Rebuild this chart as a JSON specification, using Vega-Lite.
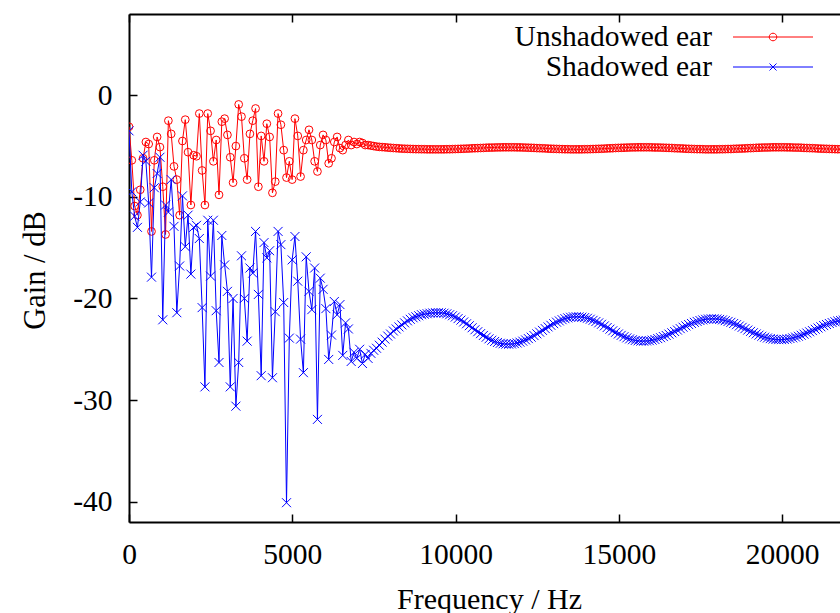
{
"$schema": "https://vega.github.io/schema/vega-lite/v6.json",
"width": 711, "height": 508,
"autosize": {"type": "none"},
"padding": {"left": 129, "top": 14, "right": 0, "bottom": 91},
"background": "white",
"config": {"view": {"stroke": null}, "font": "Liberation Serif"},
"data": {"values": [
{"f":0,"u":-3.1,"s":-3.5},{"f":86.1,"u":-6.4,"s":-9.5},{"f":172.3,"u":-10.9,"s":-11.9},{"f":258.4,"u":-11.8,"s":-13.0},{"f":344.5,"u":-9.3,"s":-10.5},{"f":430.7,"u":-6.2,"s":-5.9},{"f":516.8,"u":-4.6,"s":-6.5},{"f":602.9,"u":-4.8,"s":-10.6},{"f":689.1,"u":-13.4,"s":-17.9},{"f":775.2,"u":-6.4,"s":-9.1},
{"f":861.3,"u":-4.1,"s":-7.7},{"f":947.5,"u":-5.1,"s":-6.1},{"f":1033.6,"u":-9.0,"s":-22.1},{"f":1119.7,"u":-13.7,"s":-10.8},{"f":1205.9,"u":-2.5,"s":-11.5},{"f":1292.0,"u":-3.8,"s":-8.3},{"f":1378.1,"u":-7.0,"s":-12.9},{"f":1464.3,"u":-8.3,"s":-21.4},{"f":1550.4,"u":-11.8,"s":-16.8},{"f":1636.5,"u":-4.5,"s":-9.9},
{"f":1722.7,"u":-2.4,"s":-14.9},{"f":1808.8,"u":-5.6,"s":-11.8},{"f":1894.9,"u":-10.8,"s":-17.6},{"f":1981.1,"u":-5.9,"s":-13.0},{"f":2067.2,"u":-6.0,"s":-12.8},{"f":2153.3,"u":-1.8,"s":-14.1},{"f":2239.5,"u":-7.4,"s":-20.9},{"f":2325.6,"u":-10.8,"s":-28.7},{"f":2411.7,"u":-1.8,"s":-12.3},{"f":2497.9,"u":-3.5,"s":-17.8},
{"f":2584.0,"u":-6.5,"s":-12.3},{"f":2670.1,"u":-4.4,"s":-21.2},{"f":2756.3,"u":-9.8,"s":-26.3},{"f":2842.4,"u":-2.6,"s":-13.8},{"f":2928.5,"u":-2.3,"s":-16.7},{"f":3014.6,"u":-3.9,"s":-19.3},{"f":3100.8,"u":-6.1,"s":-28.7},{"f":3186.9,"u":-8.6,"s":-20.0},{"f":3273.0,"u":-5.0,"s":-30.6},{"f":3359.2,"u":-0.9,"s":-26.3},
{"f":3445.3,"u":-2.1,"s":-15.8},{"f":3531.4,"u":-6.2,"s":-20.0},{"f":3617.6,"u":-8.3,"s":-24.2},{"f":3703.7,"u":-3.8,"s":-17.0},{"f":3789.8,"u":-2.5,"s":-17.5},{"f":3876.0,"u":-1.3,"s":-13.4},{"f":3962.1,"u":-9.0,"s":-19.6},{"f":4048.2,"u":-4.0,"s":-27.6},{"f":4134.4,"u":-6.5,"s":-14.5},{"f":4220.5,"u":-2.8,"s":-16.0},
{"f":4306.6,"u":-4.1,"s":-15.3},{"f":4392.8,"u":-9.6,"s":-27.8},{"f":4478.9,"u":-8.5,"s":-21.3},{"f":4565.0,"u":-1.8,"s":-13.4},{"f":4651.2,"u":-2.9,"s":-14.7},{"f":4737.3,"u":-5.4,"s":-20.4},{"f":4823.4,"u":-8.1,"s":-40.1},{"f":4909.6,"u":-6.5,"s":-23.9},{"f":4995.7,"u":-8.3,"s":-16.2},{"f":5081.8,"u":-2.3,"s":-13.9},
{"f":5168.0,"u":-4.0,"s":-18.3},{"f":5254.1,"u":-8.0,"s":-24.0},{"f":5340.2,"u":-5.4,"s":-27.3},{"f":5426.4,"u":-4.4,"s":-15.9},{"f":5512.5,"u":-3.4,"s":-19.3},{"f":5598.6,"u":-4.4,"s":-21.1},{"f":5684.8,"u":-6.5,"s":-17.0},{"f":5770.9,"u":-7.5,"s":-31.9},{"f":5857.0,"u":-4.9,"s":-18.0},{"f":5943.2,"u":-3.9,"s":-19.1},
{"f":6029.3,"u":-4.4,"s":-21.0},{"f":6115.4,"u":-6.7,"s":-26.0},{"f":6201.6,"u":-6.2,"s":-23.6},{"f":6287.7,"u":-4.6,"s":-20.3},{"f":6373.8,"u":-4.1,"s":-21.6},{"f":6460.0,"u":-5.2,"s":-20.6},{"f":6546.1,"u":-5.4,"s":-25.6},{"f":6632.2,"u":-4.9,"s":-22.4},{"f":6718.4,"u":-4.4,"s":-23.0},{"f":6804.5,"u":-4.9,"s":-26.2},
{"f":6890.6,"u":-4.6,"s":-25.3},{"f":6976.8,"u":-4.8,"s":-25.9},{"f":7062.9,"u":-4.6,"s":-25.0},{"f":7149.0,"u":-4.7,"s":-26.4},{"f":7235.2,"u":-4.9,"s":-25.5},{"f":7321.3,"u":-4.9,"s":-25.9},{"f":7407.4,"u":-4.95,"s":-25.4},{"f":7493.6,"u":-5.0,"s":-25.1},{"f":7579.7,"u":-5.05,"s":-24.9},{"f":7665.8,"u":-5.08,"s":-24.6},
{"f":7752.0,"u":-5.1,"s":-24.3},{"f":7838.1,"u":-5.12,"s":-24.0},{"f":7924.2,"u":-5.15,"s":-23.7},{"f":8010.4,"u":-5.17,"s":-23.5},{"f":8096.5,"u":-5.19,"s":-23.2},{"f":8182.6,"u":-5.21,"s":-23.0},{"f":8268.8,"u":-5.23,"s":-22.8},{"f":8354.9,"u":-5.25,"s":-22.6},{"f":8441.0,"u":-5.26,"s":-22.4},{"f":8527.1,"u":-5.27,"s":-22.2},
{"f":8613.3,"u":-5.28,"s":-22.05},{"f":8699.4,"u":-5.29,"s":-21.9},{"f":8785.5,"u":-5.3,"s":-21.8},{"f":8871.7,"u":-5.3,"s":-21.7},{"f":8957.8,"u":-5.31,"s":-21.6},{"f":9043.9,"u":-5.31,"s":-21.55},{"f":9130.1,"u":-5.32,"s":-21.5},{"f":9216.2,"u":-5.32,"s":-21.45},{"f":9302.3,"u":-5.32,"s":-21.42},{"f":9388.5,"u":-5.32,"s":-21.4},
{"f":9474.6,"u":-5.32,"s":-21.4},{"f":9560.7,"u":-5.32,"s":-21.41},{"f":9646.9,"u":-5.32,"s":-21.45},{"f":9733.0,"u":-5.31,"s":-21.51},{"f":9819.1,"u":-5.31,"s":-21.6},{"f":9905.3,"u":-5.3,"s":-21.7},{"f":9991.4,"u":-5.29,"s":-21.83},{"f":10077.5,"u":-5.28,"s":-21.98},{"f":10163.7,"u":-5.27,"s":-22.13},{"f":10249.8,"u":-5.26,"s":-22.31},
{"f":10335.9,"u":-5.25,"s":-22.49},{"f":10422.1,"u":-5.24,"s":-22.68},{"f":10508.2,"u":-5.22,"s":-22.88},{"f":10594.3,"u":-5.21,"s":-23.08},{"f":10680.5,"u":-5.2,"s":-23.27},{"f":10766.6,"u":-5.19,"s":-23.46},{"f":10852.7,"u":-5.18,"s":-23.64},{"f":10938.9,"u":-5.16,"s":-23.81},{"f":11025.0,"u":-5.15,"s":-23.97},{"f":11111.1,"u":-5.15,"s":-24.11},
{"f":11197.3,"u":-5.14,"s":-24.23},{"f":11283.4,"u":-5.13,"s":-24.33},{"f":11369.5,"u":-5.13,"s":-24.41},{"f":11455.7,"u":-5.12,"s":-24.46},{"f":11541.8,"u":-5.12,"s":-24.49},{"f":11627.9,"u":-5.12,"s":-24.5},{"f":11714.1,"u":-5.12,"s":-24.48},{"f":11800.2,"u":-5.12,"s":-24.44},{"f":11886.3,"u":-5.13,"s":-24.38},{"f":11972.5,"u":-5.13,"s":-24.3},
{"f":12058.6,"u":-5.14,"s":-24.2},{"f":12144.7,"u":-5.15,"s":-24.08},{"f":12230.9,"u":-5.16,"s":-23.95},{"f":12317.0,"u":-5.17,"s":-23.81},{"f":12403.1,"u":-5.18,"s":-23.65},{"f":12489.3,"u":-5.2,"s":-23.48},{"f":12575.4,"u":-5.21,"s":-23.31},{"f":12661.5,"u":-5.22,"s":-23.14},{"f":12747.7,"u":-5.23,"s":-22.97},{"f":12833.8,"u":-5.25,"s":-22.8},
{"f":12919.9,"u":-5.26,"s":-22.64},{"f":13006.1,"u":-5.27,"s":-22.48},{"f":13092.2,"u":-5.28,"s":-22.33},{"f":13178.3,"u":-5.29,"s":-22.21},{"f":13264.5,"u":-5.3,"s":-22.09},{"f":13350.6,"u":-5.31,"s":-21.99},{"f":13436.7,"u":-5.31,"s":-21.91},{"f":13522.9,"u":-5.32,"s":-21.85},{"f":13609.0,"u":-5.32,"s":-21.81},{"f":13695.1,"u":-5.32,"s":-21.8},
{"f":13781.3,"u":-5.32,"s":-21.81},{"f":13867.4,"u":-5.32,"s":-21.84},{"f":13953.5,"u":-5.31,"s":-21.88},{"f":14039.7,"u":-5.31,"s":-21.95},{"f":14125.8,"u":-5.3,"s":-22.04},{"f":14211.9,"u":-5.29,"s":-22.15},{"f":14298.0,"u":-5.28,"s":-22.27},{"f":14384.2,"u":-5.27,"s":-22.4},{"f":14470.3,"u":-5.26,"s":-22.54},{"f":14556.4,"u":-5.25,"s":-22.7},
{"f":14642.6,"u":-5.23,"s":-22.86},{"f":14728.7,"u":-5.22,"s":-23.02},{"f":14814.8,"u":-5.21,"s":-23.18},{"f":14901.0,"u":-5.19,"s":-23.33},{"f":14987.1,"u":-5.18,"s":-23.49},{"f":15073.2,"u":-5.17,"s":-23.63},{"f":15159.4,"u":-5.16,"s":-23.76},{"f":15245.5,"u":-5.15,"s":-23.88},{"f":15331.6,"u":-5.14,"s":-23.98},{"f":15417.8,"u":-5.13,"s":-24.06},
{"f":15503.9,"u":-5.13,"s":-24.13},{"f":15590.0,"u":-5.12,"s":-24.17},{"f":15676.2,"u":-5.12,"s":-24.2},{"f":15762.3,"u":-5.12,"s":-24.2},{"f":15848.4,"u":-5.12,"s":-24.18},{"f":15934.6,"u":-5.12,"s":-24.15},{"f":16020.7,"u":-5.13,"s":-24.1},{"f":16106.8,"u":-5.14,"s":-24.04},{"f":16193.0,"u":-5.14,"s":-23.95},{"f":16279.1,"u":-5.15,"s":-23.86},
{"f":16365.2,"u":-5.16,"s":-23.75},{"f":16451.4,"u":-5.17,"s":-23.64},{"f":16537.5,"u":-5.18,"s":-23.51},{"f":16623.6,"u":-5.19,"s":-23.38},{"f":16709.8,"u":-5.21,"s":-23.25},{"f":16795.9,"u":-5.22,"s":-23.11},{"f":16882.0,"u":-5.23,"s":-22.97},{"f":16968.2,"u":-5.24,"s":-22.83},{"f":17054.3,"u":-5.26,"s":-22.7},{"f":17140.4,"u":-5.27,"s":-22.57},
{"f":17226.6,"u":-5.28,"s":-22.46},{"f":17312.7,"u":-5.29,"s":-22.35},{"f":17398.8,"u":-5.3,"s":-22.26},{"f":17485.0,"u":-5.3,"s":-22.17},{"f":17571.1,"u":-5.31,"s":-22.11},{"f":17657.2,"u":-5.32,"s":-22.05},{"f":17743.4,"u":-5.32,"s":-22.02},{"f":17829.5,"u":-5.32,"s":-22.0},{"f":17915.6,"u":-5.32,"s":-22.0},{"f":18001.8,"u":-5.32,"s":-22.02},
{"f":18087.9,"u":-5.31,"s":-22.06},{"f":18174.0,"u":-5.31,"s":-22.11},{"f":18260.2,"u":-5.3,"s":-22.18},{"f":18346.3,"u":-5.29,"s":-22.26},{"f":18432.4,"u":-5.29,"s":-22.35},{"f":18518.6,"u":-5.27,"s":-22.46},{"f":18604.7,"u":-5.26,"s":-22.58},{"f":18690.8,"u":-5.25,"s":-22.71},{"f":18776.9,"u":-5.24,"s":-22.84},{"f":18863.1,"u":-5.23,"s":-22.97},
{"f":18949.2,"u":-5.21,"s":-23.11},{"f":19035.4,"u":-5.2,"s":-23.24},{"f":19121.5,"u":-5.19,"s":-23.37},{"f":19207.6,"u":-5.17,"s":-23.49},{"f":19293.8,"u":-5.16,"s":-23.61},{"f":19379.9,"u":-5.15,"s":-23.72},{"f":19466.0,"u":-5.14,"s":-23.81},{"f":19552.1,"u":-5.14,"s":-23.89},{"f":19638.3,"u":-5.13,"s":-23.95},{"f":19724.4,"u":-5.12,"s":-24.0},
{"f":19810.5,"u":-5.12,"s":-24.04},{"f":19896.7,"u":-5.12,"s":-24.05},{"f":19982.8,"u":-5.12,"s":-24.05},{"f":20068.9,"u":-5.12,"s":-24.03},{"f":20155.1,"u":-5.13,"s":-23.99},{"f":20241.2,"u":-5.13,"s":-23.94},{"f":20327.3,"u":-5.14,"s":-23.88},{"f":20413.5,"u":-5.15,"s":-23.8},{"f":20499.6,"u":-5.15,"s":-23.72},{"f":20585.7,"u":-5.16,"s":-23.62},
{"f":20671.9,"u":-5.18,"s":-23.51},{"f":20758.0,"u":-5.19,"s":-23.4},{"f":20844.1,"u":-5.2,"s":-23.28},{"f":20930.3,"u":-5.21,"s":-23.16},{"f":21016.4,"u":-5.22,"s":-23.03},{"f":21102.5,"u":-5.24,"s":-22.91},{"f":21188.7,"u":-5.25,"s":-22.79},{"f":21274.8,"u":-5.26,"s":-22.67},{"f":21360.9,"u":-5.27,"s":-22.56},{"f":21447.1,"u":-5.28,"s":-22.46},
{"f":21533.2,"u":-5.29,"s":-22.37},{"f":21619.3,"u":-5.3,"s":-22.29},{"f":21705.5,"u":-5.31,"s":-22.22},{"f":21791.6,"u":-5.31,"s":-22.17},{"f":21877.7,"u":-5.32,"s":-22.13},{"f":21963.9,"u":-5.32,"s":-22.11},{"f":22050.0,"u":-5.32,"s":-22.1}
]},
"layer": [
{"mark": {"type": "line", "color": "#ff0000", "strokeWidth": 1, "clip": true},
 "encoding": {
  "x": {"field": "f", "type": "quantitative", "scale": {"domain": [0, 21774], "nice": false, "zero": false},
        "axis": {"orient": "bottom", "values": [0, 5000, 10000, 15000, 20000], "labelExpr": "'' + datum.value", "grid": false,
                 "tickSize": -8, "tickWidth": 1.5, "tickColor": "black", "domainColor": "black", "domainWidth": 2,
                 "labelFont": "Liberation Serif", "labelFontSize": 29.5, "labelColor": "black", "labelPadding": 26, "labelFlush": false, "labelOverlap": false,
                 "title": "Frequency / Hz", "titleFont": "Liberation Serif", "titleFontSize": 30, "titleFontWeight": "normal", "titleColor": "black",
                 "titleX": 360, "titleY": 86, "titleAlign": "center", "titleBaseline": "alphabetic", "titleAngle": 0}},
  "y": {"field": "u", "type": "quantitative", "scale": {"domain": [-42, 8], "nice": false, "zero": false},
        "axis": {"orient": "left", "values": [-40, -30, -20, -10, 0], "labelExpr": "'' + datum.value", "grid": false,
                 "tickSize": -8, "tickWidth": 1.5, "tickColor": "black", "domainColor": "black", "domainWidth": 2,
                 "labelFont": "Liberation Serif", "labelFontSize": 29.5, "labelColor": "black", "labelPadding": 25, "labelFlush": false, "labelOverlap": false,
                 "title": "Gain / dB", "titleFont": "Liberation Serif", "titleFontSize": 30.5, "titleFontWeight": "normal", "titleColor": "black",
                 "titleX": -85, "titleY": 256, "titleAlign": "center", "titleBaseline": "alphabetic", "titleAngle": -90}}
 }},
{"mark": {"type": "point", "shape": "circle", "filled": false, "size": 60, "strokeWidth": 1, "opacity": 1, "clip": true},
 "encoding": {
  "x": {"field": "f", "type": "quantitative", "scale": {"domain": [0, 21774], "nice": false, "zero": false},
        "axis": {"orient": "top", "values": [0, 5000, 10000, 15000, 20000], "labels": false, "grid": false, "title": null,
                 "tickSize": -8, "tickWidth": 1.5, "tickColor": "black", "domainColor": "black", "domainWidth": 2}},
  "y": {"field": "u", "type": "quantitative", "scale": {"domain": [-42, 8], "nice": false, "zero": false}, "axis": null},
  "color": {"datum": "Unshadowed ear", "type": "nominal", "scale": {"domain": ["Unshadowed ear"], "range": ["#ff0000"]},
            "legend": {"orient": "none", "legendX": 603.5, "legendY": -17.5, "title": null, "padding": 0,
                       "symbolType": "M-1,0H1M0.095,0A0.095,0.095,0,1,1,-0.095,0A0.095,0.095,0,1,1,0.095,0",
                       "symbolSize": 6400, "symbolStrokeWidth": 1, "symbolOpacity": 1,
                       "labelFont": "Liberation Serif", "labelFontSize": 29.5, "labelColor": "black", "labelAlign": "right", "labelBaseline": "middle",
                       "labelOffset": -101.5, "labelLimit": 400}}
 }},
{"mark": {"type": "line", "color": "#0000ff", "strokeWidth": 1, "clip": true},
 "encoding": {
  "x": {"field": "f", "type": "quantitative", "scale": {"domain": [0, 21774], "nice": false, "zero": false}, "axis": null},
  "y": {"field": "s", "type": "quantitative", "scale": {"domain": [-42, 8], "nice": false, "zero": false}, "axis": null}
 }},
{"mark": {"type": "point", "shape": "M-1,-1L1,1M-1,1L1,-1", "filled": false, "size": 81, "strokeWidth": 1, "opacity": 1, "clip": true},
 "encoding": {
  "x": {"field": "f", "type": "quantitative", "scale": {"domain": [0, 21774], "nice": false, "zero": false}, "axis": null},
  "y": {"field": "s", "type": "quantitative", "scale": {"domain": [-42, 8], "nice": false, "zero": false}, "axis": null},
  "color": {"datum": "Shadowed ear", "type": "nominal", "scale": {"domain": ["Shadowed ear"], "range": ["#0000ff"]},
            "legend": {"orient": "none", "legendX": 603.5, "legendY": 12.5, "title": null, "padding": 0,
                       "symbolType": "M-1,0H1M-0.0875,-0.0875L0.0875,0.0875M-0.0875,0.0875L0.0875,-0.0875",
                       "symbolSize": 6400, "symbolStrokeWidth": 1, "symbolOpacity": 1,
                       "labelFont": "Liberation Serif", "labelFontSize": 29.5, "labelColor": "black", "labelAlign": "right", "labelBaseline": "middle",
                       "labelOffset": -101.5, "labelLimit": 400}}
 }}
],
"resolve": {"scale": {"color": "independent"}, "axis": {"x": "independent", "y": "independent"}}
}
